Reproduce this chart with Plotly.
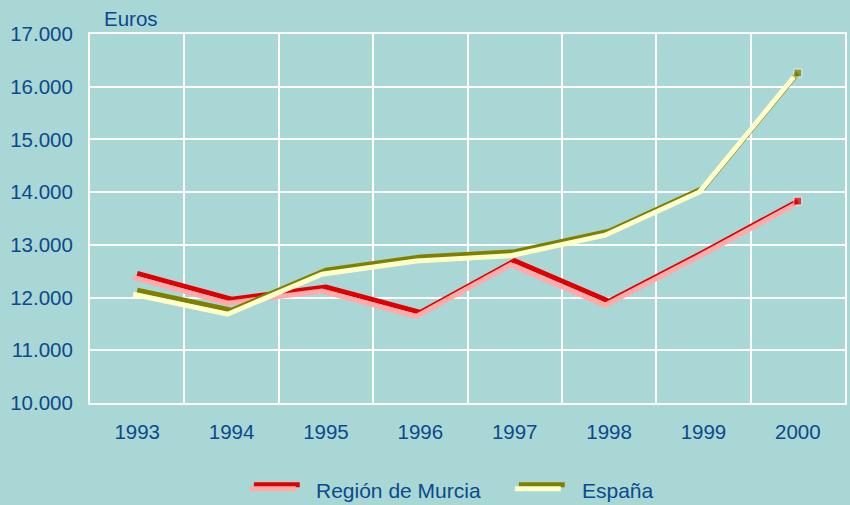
import plotly.graph_objects as go

years = ["1993", "1994", "1995", "1996", "1997", "1998", "1999", "2000"]
murcia = [12460, 11970, 12200, 11720, 12700, 11930, 12860, 13830]
espana = [12140, 11760, 12520, 12770, 12870, 13260, 14080, 16260]
y_ticks = [10000, 11000, 12000, 13000, 14000, 15000, 16000, 17000]

BG = "#a9d7d5"
TXT = "#0b4a8c"
FONT = "Liberation Sans, Arial, sans-serif"

# plot area geometry (px) used for the shadow offset
L, R, T, B = 90, 3, 34, 102
W, H = 850, 505
PW, PH = W - L - R, H - T - B
SHIFT = 4  # shadow offset in px (left and down)
dx = SHIFT * len(years) / PW
dy = SHIFT * (y_ticks[-1] - y_ticks[0]) / PH

end_marker = [0] * (len(years) - 1) + [8]

fig = go.Figure()
fig.add_trace(go.Scatter(x=years, y=murcia, mode="lines+markers", xaxis="x", yaxis="y",
                         line=dict(color="#e00000", width=5),
                         marker=dict(symbol="square", size=end_marker, color="#e00000"),
                         showlegend=False, name="Región de Murcia"))
fig.add_trace(go.Scatter(x=years, y=murcia, mode="lines", xaxis="x2", yaxis="y2",
                         line=dict(color="#ffaaaa", width=5), showlegend=False))
fig.add_trace(go.Scatter(x=years, y=espana, mode="lines+markers", xaxis="x3", yaxis="y3",
                         line=dict(color="#808000", width=5),
                         marker=dict(symbol="square", size=end_marker, color="#808000"),
                         showlegend=False, name="España"))
fig.add_trace(go.Scatter(x=years, y=espana, mode="lines", xaxis="x4", yaxis="y4",
                         line=dict(color="#ffffcc", width=5), showlegend=False))

base_x = dict(type="category", categoryorder="array", categoryarray=years)
hidden = dict(visible=False, showgrid=False, zeroline=False)

fig.update_layout(
    width=W, height=H,
    margin=dict(l=L, r=R, t=T, b=B),
    paper_bgcolor=BG, plot_bgcolor=BG,
    separators=",.",
    font=dict(family=FONT, color=TXT, size=20.5),
    xaxis=dict(**base_x, range=[-0.5, len(years) - 0.5], tickson="boundaries",
               showgrid=True, gridcolor="white", gridwidth=2, ticks="",
               showline=True, linecolor="white", linewidth=2, mirror=True,
               ticklabelstandoff=9, tickfont=dict(size=20.5, color=TXT)),
    yaxis=dict(range=[y_ticks[0], y_ticks[-1]], tickvals=y_ticks, tickformat=",d",
               showgrid=True, gridcolor="white", gridwidth=2, ticks="", zeroline=False,
               showline=True, linecolor="white", linewidth=2, mirror=True,
               ticklabelstandoff=11, tickfont=dict(size=20.5, color=TXT)),
    xaxis2=dict(**base_x, **hidden, overlaying="x", range=[-0.5 + dx, len(years) - 0.5 + dx]),
    yaxis2=dict(**hidden, overlaying="y", range=[y_ticks[0] + dy, y_ticks[-1] + dy]),
    xaxis3=dict(**base_x, **hidden, overlaying="x", range=[-0.5, len(years) - 0.5]),
    yaxis3=dict(**hidden, overlaying="y", range=[y_ticks[0], y_ticks[-1]]),
    xaxis4=dict(**base_x, **hidden, overlaying="x", range=[-0.5 + dx, len(years) - 0.5 + dx]),
    yaxis4=dict(**hidden, overlaying="y", range=[y_ticks[0] + dy, y_ticks[-1] + dy]),
    showlegend=False,
)

fig.add_annotation(text="Euros", xref="paper", yref="paper", x=0.0155, y=1.0407,
                   xanchor="left", yanchor="middle", showarrow=False,
                   font=dict(size=20.5, color=TXT))

# custom legend (swatch with its shadow + label)
def px_x(p):
    return (p - L) / PW

def px_y(p):
    return (H - B - p) / PH

legend_items = [("Región de Murcia", "#e00000", "#ffaaaa", 254.3, 317),
                ("España", "#808000", "#ffffcc", 520.0, 583.3)]
for label, dark, light, sx, tx in legend_items:
    fig.add_shape(type="line", xref="paper", yref="paper",
                  x0=px_x(sx), x1=px_x(sx + 46), y0=px_y(484.7), y1=px_y(484.7),
                  line=dict(color=dark, width=5))
    fig.add_shape(type="line", xref="paper", yref="paper",
                  x0=px_x(sx - SHIFT), x1=px_x(sx + 46 - SHIFT),
                  y0=px_y(484.7 + SHIFT), y1=px_y(484.7 + SHIFT),
                  line=dict(color=light, width=5))
    fig.add_annotation(text=label, xref="paper", yref="paper", x=px_x(tx - 2), y=px_y(490),
                       xanchor="left", yanchor="middle", showarrow=False,
                       font=dict(size=21, color=TXT))

fig.write_html("out.html",
               config={"displayModeBar": False},
               post_script="document.body.style.margin='0';"
                           "document.body.style.background='" + BG + "';")
